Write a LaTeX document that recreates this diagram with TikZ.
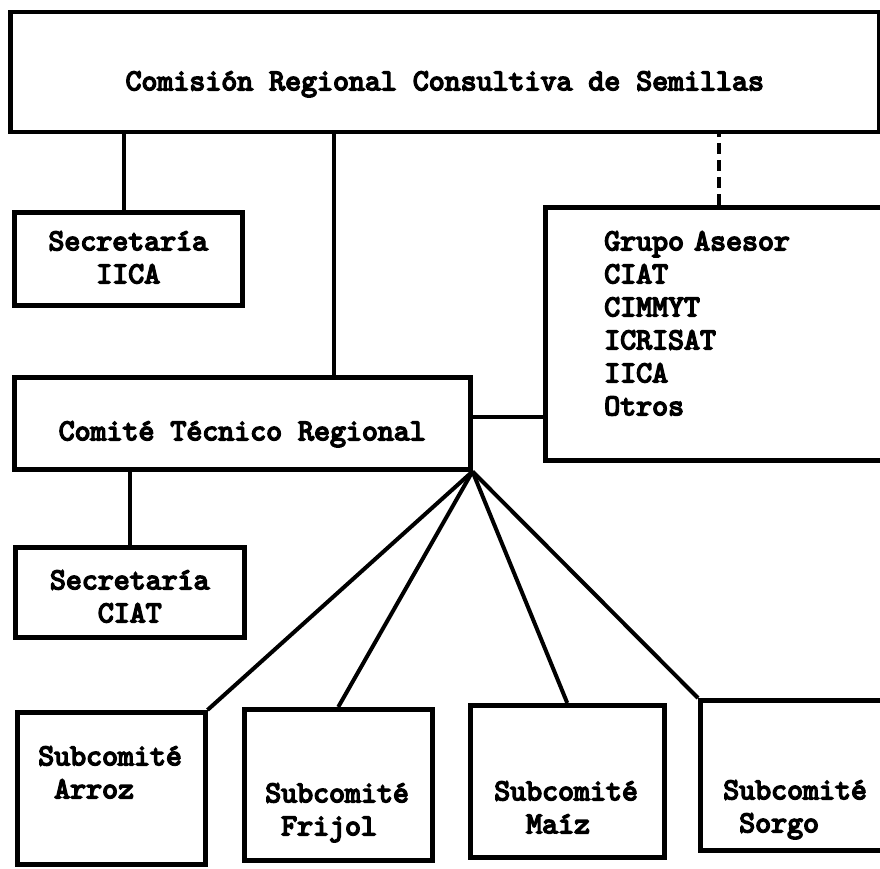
\documentclass[tikz,border=0pt]{standalone}
\usepackage{fontspec}
\newfontfamily\typewriter{lmmono10-regular.otf}[FakeBold=5]

\begin{document}
\begin{tikzpicture}[
  x=1pt, y=-1pt,
  box/.style={draw, line width=4.5pt, inner sep=0pt, anchor=north west, align=center,
    font=\typewriter\fontsize{30.4}{33}\selectfont},
  subbox/.style={box, align=left, text width=146pt},
  link/.style={line width=4pt},
  dashlink/.style={line width=4.5pt, dash pattern=on 11pt off 6pt}
]
\path[use as bounding box, fill=white] (0,0) rectangle (880,869);

% top level and its two secretariats
\node[box, minimum width=869pt, text height=78pt, text depth=42pt] (comision) at (8,10) {Comisión Regional Consultiva de Semillas};
\node[box, minimum width=228pt, text width=200pt, text height=38pt, text depth=55pt] (seciica) at (12,210) {Secretaría\\IICA};
\node[box, minimum width=456pt, text height=63pt, text depth=29pt] (comite) at (12,375) {Comité Técnico Regional};
\node[box, minimum width=229pt, text width=200pt, text height=42pt, text depth=48pt] (secciat) at (13,545) {Secretaría\\CIAT};
\node[box, align=left, text width=229pt, inner xsep=59pt, text height=43pt, text depth=210pt] (grupo) at (543,205) {Grupo Asesor\\CIAT\\CIMMYT\\ICRISAT\\IICA\\Otros};

% subcommittees
\node[subbox, minimum width=188pt, text height=53pt, text depth=99pt] (arroz) at (15,710) {Subcomité\\\hphantom{S}Arroz};
\node[subbox, minimum width=188pt, text height=93pt, text depth=58pt] (frijol) at (242,707) {Subcomité\\\hphantom{S}Frijol};
\node[subbox, minimum width=194pt, text height=95pt, text depth=57pt] (maiz) at (468,703) {Subcomité\\\hphantom{Su}Maíz};
\node[subbox, minimum width=192pt, text height=99pt, text depth=51pt] (sorgo) at (698,698) {Subcomité\\\hphantom{S}Sorgo};

\draw[link] ([xshift=-4pt]seciica.north) coordinate (c1) -- (c1 |- comision.south);
\draw[link] ([xshift=92pt]comite.north) coordinate (c2) -- (c2 |- comision.south);
\draw[dashlink] (grupo.north) -- (grupo.north |- comision.south);
\draw[link] ([yshift=6pt]comite.east) coordinate (c3) -- (c3 -| grupo.west);
\draw[link] (secciat.north) -- (secciat.north |- comite.south);

\foreach \sc/\anc in {arroz/north east, frijol/north, maiz/north, sorgo/north west}
  \draw[link] (comite.south east) -- (\sc.\anc);
\end{tikzpicture}
\end{document}
